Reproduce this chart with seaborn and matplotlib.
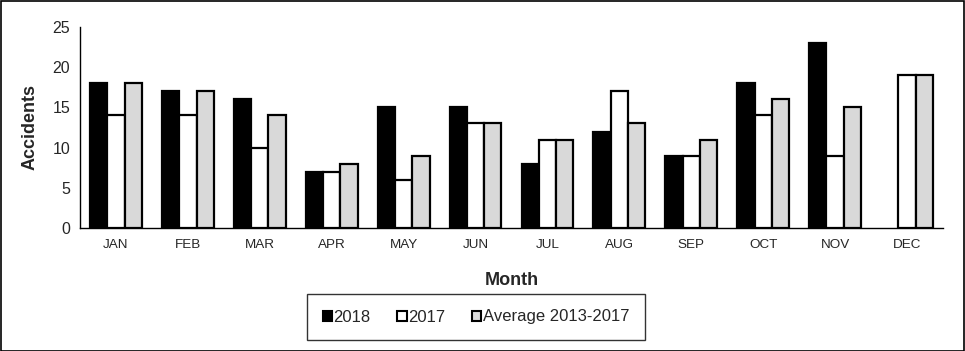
import matplotlib
matplotlib.use("Agg")
import matplotlib.pyplot as plt
import seaborn as sns
import pandas as pd
import numpy as np
from matplotlib.patches import Rectangle

months = ["JAN", "FEB", "MAR", "APR", "MAY", "JUN", "JUL", "AUG", "SEP", "OCT", "NOV", "DEC"]
series_names = ["2018", "2017", "Average 2013-2017"]
v2018 = [18, 17, 16, 7, 15, 15, 8, 12, 9, 18, 23, np.nan]
v2017 = [14, 14, 10, 7, 6, 13, 11, 17, 9, 14, 9, 19]
vavg = [18, 17, 14, 8, 9, 13, 11, 13, 11, 16, 15, 19]
colors = ["#000000", "#ffffff", "#d9d9d9"]

rows = []
for name, vals in zip(series_names, [v2018, v2017, vavg]):
    for m, v in zip(months, vals):
        rows.append({"Month": m, "Series": name, "Accidents": v})
df = pd.DataFrame(rows)

sns.set_style("white")
plt.rcParams["font.family"] = ["Liberation Sans", "DejaVu Sans"]

fig = plt.figure(figsize=(9.65, 3.51), dpi=100)
ax = fig.add_axes([80/965, 1-228/351, (943-80)/965, (228-27)/351])

sns.barplot(data=df, x="Month", y="Accidents", hue="Series", order=months,
            hue_order=series_names, palette=colors, edgecolor="black",
            linewidth=1.6, width=0.72, ax=ax, legend=True, errorbar=None)

ax.set_ylim(0, 25)
ax.set_xlim(-0.5, 11.5)
ax.set_yticks([0, 5, 10, 15, 20, 25])
ax.set_xticks(np.arange(-0.5, 12, 1), minor=False, labels=[""] * 13)
ax.set_xticks(np.arange(12), labels=months, minor=True)
ax.tick_params(axis="x", which="major", direction="out", length=4, width=1, color="black")
ax.tick_params(axis="x", which="minor", length=0, labelsize=9.7, pad=8)
ax.tick_params(axis="y", direction="out", length=4, width=1, color="black", labelsize=11.5, pad=3)
for s in ["top", "right"]:
    ax.spines[s].set_visible(False)
for s in ["left", "bottom"]:
    ax.spines[s].set_color("black")
    ax.spines[s].set_linewidth(1)
ax.set_ylabel("Accidents", fontsize=13, fontweight="bold", labelpad=10)
ax.set_xlabel("Month", fontsize=13, fontweight="bold", labelpad=15)

leg = ax.legend(loc="center", bbox_to_anchor=(476/965, 1-317/351), bbox_transform=fig.transFigure,
                ncol=3, frameon=True, fancybox=False, edgecolor="black", fontsize=12,
                handlelength=0.55, handleheight=0.55, handletextpad=0.1, columnspacing=1.6,
                borderpad=0.95, borderaxespad=0)
leg.get_frame().set_linewidth(1)
leg.get_frame().set_boxstyle("square", pad=0)
for h in leg.legend_handles:
    h.set_edgecolor("black")
    h.set_linewidth(1.5)

fig.patches.append(Rectangle((0.5/965, 0.5/351), 1-1.5/965, 1-1.5/351, transform=fig.transFigure,
                             fill=False, edgecolor="black", linewidth=1.2, zorder=10))

fig.savefig("out.png", dpi=100)
